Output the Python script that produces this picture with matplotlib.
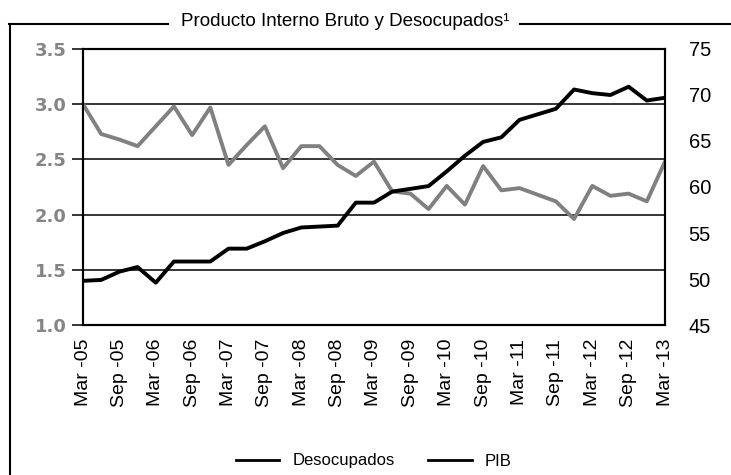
import matplotlib
matplotlib.use("Agg")
import matplotlib.pyplot as plt
from matplotlib.lines import Line2D

plt.rcParams['font.family'] = ['Liberation Sans', 'DejaVu Sans']

# Quarterly data, Mar-05 .. Mar-13
tick_labels = ['Mar -05', 'Sep -05', 'Mar -06', 'Sep -06', 'Mar -07', 'Sep -07',
               'Mar -08', 'Sep -08', 'Mar -09', 'Sep -09', 'Mar -10', 'Sep -10',
               'Mar -11', 'Sep -11', 'Mar -12', 'Sep -12', 'Mar -13']

# Desocupados (left axis, gray)
desocupados = [3.00, 2.73, 2.68, 2.62, 2.80, 2.98, 2.72, 2.97, 2.45, 2.63,
               2.80, 2.42, 2.62, 2.62, 2.45, 2.35, 2.48, 2.21, 2.19, 2.05,
               2.26, 2.09, 2.44, 2.22, 2.24, 2.18, 2.12, 1.96, 2.26, 2.17,
               2.19, 2.12, 2.48]

# PIB (right axis, black)
pib = [49.8, 49.9, 50.8, 51.3, 49.6, 51.9, 51.9, 51.9, 53.3, 53.3,
       54.1, 55.0, 55.6, 55.7, 55.8, 58.3, 58.3, 59.5, 59.8, 60.1,
       61.7, 63.4, 64.9, 65.4, 67.3, 67.9, 68.5, 70.6, 70.2, 70.0,
       70.9, 69.4, 69.7]

left_ticks = [1.0, 1.5, 2.0, 2.5, 3.0, 3.5]
right_ticks = [45, 50, 55, 60, 65, 70, 75]

W, H = 731, 475
fig = plt.figure(figsize=(W / 100, H / 100), dpi=100)
ax = fig.add_axes([83 / W, 1 - 325 / H, (665 - 83) / W, (325 - 49) / H])

x = list(range(len(desocupados)))
ax.plot(x, desocupados, color='#808080', lw=2.8, zorder=3)
ax.set_xlim(0, len(desocupados) - 1)
ax.set_ylim(left_ticks[0], left_ticks[-1])
ax.set_yticks(left_ticks)
ax.set_yticklabels([f'{v:.1f}' for v in left_ticks], family='DejaVu Sans',
                   weight='bold')
ax.yaxis.grid(True, color='black', lw=1.1)
ax.set_axisbelow(True)
ax.set_xticks(x[::2])
ax.set_xticklabels(tick_labels, rotation=90)
ax.tick_params(axis='y', length=8, width=1.1, pad=4, labelsize=13,
               labelcolor='#858585', color='black')
ax.tick_params(axis='x', length=0, pad=10, labelsize=14)

ax2 = ax.twinx()
ax2.plot(x, pib, color='black', lw=2.8, zorder=4)
ax2.set_ylim(right_ticks[0], right_ticks[-1])
ax2.set_yticks(right_ticks)
ax2.tick_params(axis='y', length=0, pad=17, labelsize=14.5, labelcolor='black')

for a in (ax, ax2):
    for s in a.spines.values():
        s.set_linewidth(1.5)
        s.set_color('black')

# Title and frame
fig.text(345 / W, 1 - 21 / H, 'Producto Interno Bruto y Desocupados\u00b9',
         ha='center', va='center', fontsize=13.5)
ytop = 1 - 24 / H
fig.add_artist(Line2D([10 / W, 10 / W], [0, ytop], transform=fig.transFigure,
                      color='black', lw=1.5))
fig.add_artist(Line2D([9 / W, 168 / W], [ytop, ytop], transform=fig.transFigure,
                      color='black', lw=1.5))
fig.add_artist(Line2D([520 / W, 1], [ytop, ytop], transform=fig.transFigure,
                      color='black', lw=1.5))

handles = [Line2D([], [], color='black', lw=2), Line2D([], [], color='black', lw=2)]
fig.legend(handles, ['Desocupados', 'PIB'], loc='center',
           bbox_to_anchor=(374 / W, 1 - 461 / H), ncol=2, frameon=False,
           fontsize=12, handlelength=2.6, handletextpad=0.8, columnspacing=2.0)

fig.savefig('out.png', dpi=100)
